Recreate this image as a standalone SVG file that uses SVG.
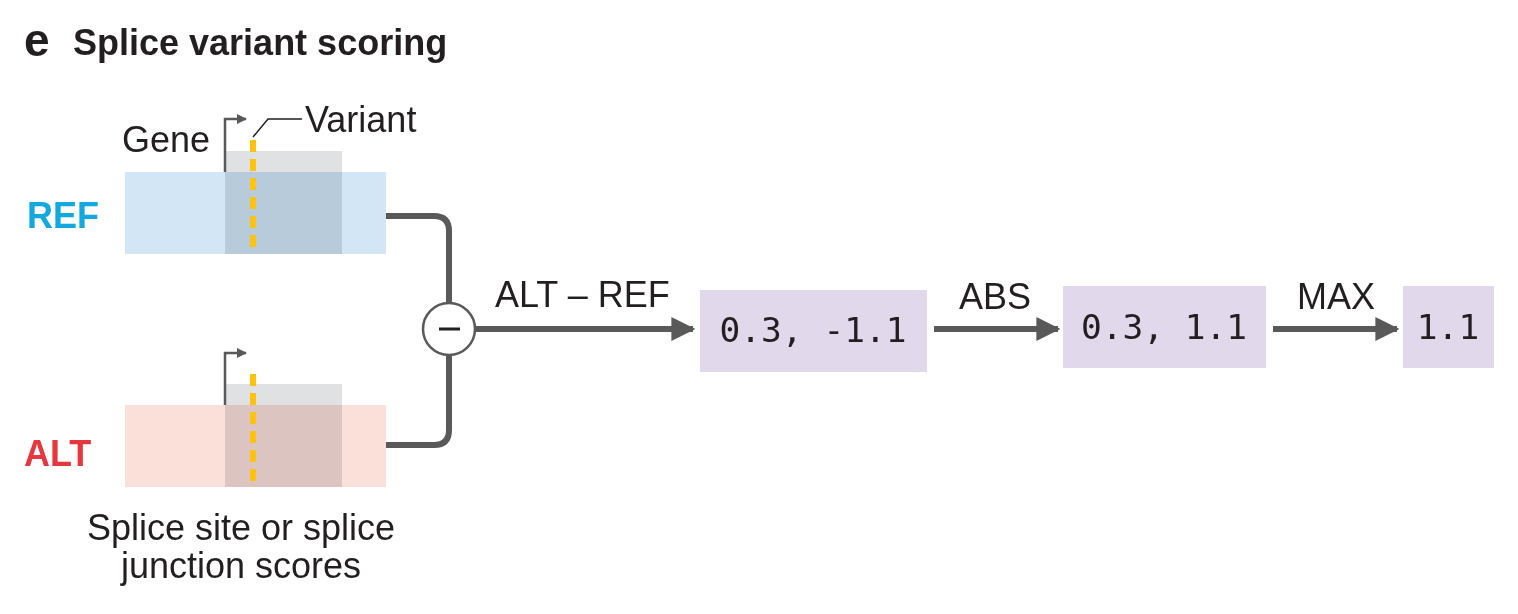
<svg xmlns="http://www.w3.org/2000/svg" width="1518" height="614" viewBox="0 0 1518 614">
<style>
.t{font-family:"Liberation Sans",Arial,sans-serif;font-size:36px;fill:#231f20}
.b{font-weight:bold}
.m{font-family:"DejaVu Sans Mono","Liberation Mono",monospace;font-size:34.5px;fill:#231f20;text-anchor:middle}
.conn{fill:none;stroke:#595959;stroke-width:6}
.gene{fill:none;stroke:#595959;stroke-width:2.5}
.var{stroke:#ffc20e;stroke-width:6;stroke-dasharray:12 7}
.gray{fill:#e0e1e2;mix-blend-mode:multiply}
.box{fill:#e2d8ec}
</style>
<defs>
<marker id="ah" viewBox="0 0 10 10" refX="9" refY="5" markerWidth="4" markerHeight="4" markerUnits="strokeWidth" orient="auto">
<path d="M0,0 L10,5 L0,10 Z" fill="#595959"/>
</marker>
<marker id="sh" viewBox="0 0 10 10" refX="9" refY="5" markerWidth="4" markerHeight="4" markerUnits="strokeWidth" orient="auto">
<path d="M0,0 L10,5 L0,10 Z" fill="#595959"/>
</marker>
</defs>
<g id="title">
<text x="24" y="56" class="t b" style="font-size:46px">e</text>
<text x="73" y="55" class="t b">Splice variant scoring</text>
</g>
<g id="ref">
<rect x="125" y="172" width="261" height="82" fill="#d2e6f6"/>
<rect x="225" y="151" width="117" height="103" class="gray"/>
<path d="M225,172 V119 H246" class="gene" marker-end="url(#sh)"/>
<line x1="253" y1="140" x2="253" y2="254" class="var"/>
<path d="M253,137 L268,119 H302" fill="none" stroke="#231f20" stroke-width="1.5"/>
<text x="122" y="152" class="t">Gene</text>
<text x="305" y="132" class="t">Variant</text>
<text x="27" y="228" class="t b" style="fill:#12a9e1">REF</text>
</g>
<g id="alt">
<rect x="125" y="405" width="261" height="82" fill="#fbdfd9"/>
<rect x="225" y="384" width="117" height="103" class="gray"/>
<path d="M225,405 V353 H246" class="gene" marker-end="url(#sh)"/>
<line x1="253" y1="374" x2="253" y2="487" class="var"/>
<text x="24" y="466" class="t b" style="fill:#e8363f">ALT</text>
</g>
<g id="scores-caption">
<text x="241" y="540" class="t" text-anchor="middle">Splice site or splice</text>
<text x="241" y="578" class="t" text-anchor="middle">junction scores</text>
</g>
<g id="minus">
<circle cx="449" cy="329" r="26" fill="#fff" stroke="#595959" stroke-width="2.5"/>
<line x1="439" y1="329" x2="460" y2="329" stroke="#231f20" stroke-width="3"/>
</g>
<g id="diff">
<rect x="700" y="290" width="227" height="82" class="box"/>
<text x="813" y="342" class="m">0.3, -1.1</text>
</g>
<g id="abs">
<rect x="1063" y="286" width="203" height="82" class="box"/>
<text x="1164" y="339" class="m">0.3, 1.1</text>
</g>
<g id="max">
<rect x="1403" y="286" width="91" height="82" class="box"/>
<text x="1448" y="339" class="m">1.1</text>
</g>
<g id="connectors">
<path d="M386,216 H434 Q449,216 449,231 V303" class="conn"/>
<path d="M386,445 H434 Q449,445 449,430 V355" class="conn"/>
<line x1="475" y1="329" x2="693" y2="329" class="conn" marker-end="url(#ah)"/>
<line x1="934" y1="329" x2="1058" y2="329" class="conn" marker-end="url(#ah)"/>
<line x1="1273" y1="329" x2="1397" y2="329" class="conn" marker-end="url(#ah)"/>
<text x="495" y="307" class="t">ALT – REF</text>
<text x="959" y="309" class="t">ABS</text>
<text x="1297" y="309" class="t">MAX</text>
</g>
</svg>
